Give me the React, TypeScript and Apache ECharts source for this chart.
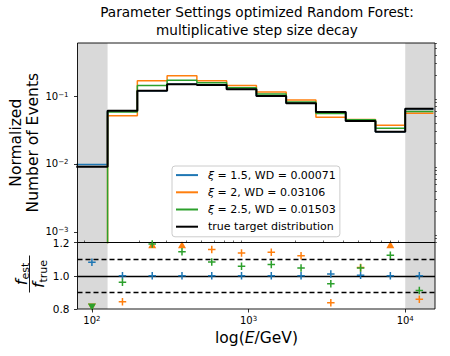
import React, { useEffect, useRef } from "react";
import * as echarts from "echarts";

// ---- data (energies given as log10(E/GeV)) ----
const BIN_EDGES_LOG10 = [1.9, 2.1, 2.29, 2.48, 2.67, 2.86, 3.05, 3.24, 3.43, 3.62, 3.81, 4.0, 4.18];
const TRUE_DIST = [0.0091, 0.0608, 0.1197, 0.1486, 0.145, 0.1256, 0.1, 0.078, 0.058, 0.0429, 0.0299, 0.0652];
const XI_15 = [0.00984, 0.0608, 0.1197, 0.1486, 0.145, 0.1256, 0.1, 0.078, 0.0586, 0.043, 0.0299, 0.0652];
const XI_2 = [0, 0.0513, 0.1676, 0.1991, 0.1679, 0.1428, 0.1141, 0.0874, 0.0486, 0.045, 0.0371, 0.056];
const XI_25 = [0, 0.0584, 0.1425, 0.1701, 0.157, 0.1328, 0.1067, 0.0816, 0.0552, 0.0449, 0.0336, 0.0594];
const SERIES_NAMES = ["ξ = 1.5, WD = 0.00071", "ξ = 2, WD = 0.03106", "ξ = 2.5, WD = 0.01503", "true target distribution"];
const SERIES_COLORS = ["#1f77b4", "#ff7f0e", "#2ca02c", "#000000"];
const X_MAJOR_TICKS = [2, 3, 4];
const Y_MAJOR_TICKS = [-3, -2, -1];
const RATIO_TICKS = [0.8, 1.0, 1.2];
const RATIO_SOLID = [1.0];
const RATIO_DASHED = [0.9, 1.1];
const TITLE = "Parameter Settings optimized Random Forest:\nmultiplicative step size decay";

const FONT = "DejaVu Sans";
const X_MIN = 1.908, X_MAX = 4.19;
const Y_MIN = -3.155, Y_MAX = -0.22;
const R_MIN = 0.8, R_MAX = 1.2;

const minorTicks = (lo: number, hi: number) => {
  const out: number[] = [];
  for (let n = Math.floor(lo) - 1; n <= Math.ceil(hi); n++) {
    for (let k = 2; k <= 9; k++) {
      const v = n + Math.log10(k);
      if (v > lo && v < hi) out.push(v);
    }
  }
  return out;
};

const stepData = (vals: number[]) => {
  const pts: number[][] = [];
  vals.forEach((v, i) => {
    const y = v > 0 ? Math.log10(v) : -12;
    pts.push([BIN_EDGES_LOG10[i], y], [BIN_EDGES_LOG10[i + 1], y]);
  });
  return pts;
};

const ratioData = (vals: number[]) =>
  vals.map((v, i) => {
    const r = v / TRUE_DIST[i];
    const x = (BIN_EDGES_LOG10[i] + BIN_EDGES_LOG10[i + 1]) / 2;
    if (r > R_MAX) return { value: [x, 1.186], symbol: "triangle", symbolSize: [8, 7] };
    if (r < R_MIN) return { value: [x, 0.812], symbol: "triangle", symbolRotate: 180, symbolSize: [8, 7] };
    return { value: [x, r] };
  });

const PLUS = "path://M0,3.2H8V4.8H0Z M3.2,0H4.8V8H3.2Z";

const supLabel = (v: number) => {
  const e = Math.round(v);
  return `{b|10}{s|${e < 0 ? "\u2212" + Math.abs(e) : e}}`;
};
const supRich = {
  b: { fontSize: 10, fontFamily: FONT, color: "#000", lineHeight: 10, verticalAlign: "bottom" },
  s: { fontSize: 7, fontFamily: FONT, color: "#000", lineHeight: 3, verticalAlign: "top" },
};

export default function App() {
  const ref = useRef<HTMLDivElement>(null);
  useEffect(() => {
    if (!ref.current) return;
    const chart = echarts.init(ref.current, undefined, { renderer: "svg" });
    const G0 = { left: 77.5, top: 43, width: 357.5, height: 199.5 };
    const G1 = { left: 77.5, top: 242.5, width: 357.5, height: 66.5 };
    const tickStyle = { color: "#000", width: 0.8 };
    const models = [XI_15, XI_2, XI_25];

    const option: any = {
      animation: false,
      backgroundColor: "#fff",
      grid: [
        { ...G0, show: true, borderColor: "#000", borderWidth: 0.9, backgroundColor: "transparent", z: 10 },
        { ...G1, show: true, borderColor: "#000", borderWidth: 0.9, backgroundColor: "transparent", z: 10 },
      ],
      xAxis: [
        { type: "value", gridIndex: 0, min: X_MIN, max: X_MAX, axisLine: { show: false }, axisTick: { show: false }, axisLabel: { show: false }, splitLine: { show: false } },
        {
          type: "value", gridIndex: 1, min: X_MIN, max: X_MAX, axisLine: { show: false }, splitLine: { show: false },
          axisTick: { show: true, length: 3.5, lineStyle: tickStyle, customValues: X_MAJOR_TICKS },
          axisLabel: { show: true, customValues: X_MAJOR_TICKS, formatter: supLabel, rich: supRich, margin: 6 },
          z: 12,
        },
        {
          type: "value", gridIndex: 1, min: X_MIN, max: X_MAX, axisLine: { show: false }, splitLine: { show: false },
          axisTick: { show: true, length: 2, lineStyle: { color: "#000", width: 0.6 }, customValues: minorTicks(X_MIN, X_MAX) },
          axisLabel: { show: false }, z: 12,
        },
      ],
      yAxis: [
        {
          type: "value", gridIndex: 0, min: Y_MIN, max: Y_MAX, axisLine: { show: false }, splitLine: { show: false },
          axisTick: { show: true, length: 3.5, lineStyle: tickStyle, customValues: Y_MAJOR_TICKS },
          axisLabel: { show: true, customValues: Y_MAJOR_TICKS, formatter: supLabel, rich: supRich, margin: 9 },
          z: 12,
        },
        {
          type: "value", gridIndex: 0, min: Y_MIN, max: Y_MAX, axisLine: { show: false }, splitLine: { show: false },
          axisTick: { show: true, length: 2, lineStyle: { color: "#000", width: 0.6 }, customValues: minorTicks(Y_MIN, Y_MAX) },
          axisLabel: { show: false }, z: 12,
        },
        {
          type: "value", gridIndex: 1, min: R_MIN, max: R_MAX, axisLine: { show: false }, splitLine: { show: false },
          axisTick: { show: true, length: 3.5, lineStyle: tickStyle, customValues: RATIO_TICKS },
          axisLabel: { show: true, customValues: RATIO_TICKS, formatter: (v: number) => v.toFixed(1), fontSize: 10.5, fontFamily: FONT, color: "#000", margin: 8, lineHeight: 10 },
          z: 12,
        },
      ],
      legend: {
        data: SERIES_NAMES,
        orient: "vertical",
        left: 172,
        top: 166,
        padding: [3, 4, 4, 4],
        itemGap: 5,
        itemWidth: 22,
        itemHeight: 2,
        icon: "rect",
        selectedMode: false,
        backgroundColor: "rgba(255,255,255,0.85)",
        borderColor: "#cccccc",
        borderWidth: 1,
        borderRadius: 3,
        textStyle: {
          fontSize: 11, fontFamily: FONT, color: "#000", lineHeight: 12.2, padding: [0, 0, 0, 5],
          rich: { i: { fontStyle: "italic", fontSize: 11, fontFamily: FONT, color: "#000" } },
        },
        formatter: (name: string) => name.replace("ξ", "{i|ξ}"),
        z: 20,
      },
      series: [
        {
          name: "_bg0", type: "line", data: [], xAxisIndex: 0, yAxisIndex: 0, z: 1, silent: true,
          markArea: {
            silent: true, itemStyle: { color: "#d9d9d9" },
            data: [
              [{ xAxis: X_MIN }, { xAxis: BIN_EDGES_LOG10[1] }],
              [{ xAxis: BIN_EDGES_LOG10[BIN_EDGES_LOG10.length - 2] }, { xAxis: X_MAX }],
            ],
          },
        },
        {
          name: "_bg1", type: "line", data: [], xAxisIndex: 1, yAxisIndex: 2, z: 1, silent: true,
          markArea: {
            silent: true, itemStyle: { color: "#d9d9d9" },
            data: [
              [{ xAxis: X_MIN }, { xAxis: BIN_EDGES_LOG10[1] }],
              [{ xAxis: BIN_EDGES_LOG10[BIN_EDGES_LOG10.length - 2] }, { xAxis: X_MAX }],
            ],
          },
        },
        {
          name: "_ref", type: "line", data: [], xAxisIndex: 1, yAxisIndex: 2, z: 2, silent: true,
          markLine: {
            silent: true, symbol: "none", label: { show: false },
            data: [
              ...RATIO_SOLID.map((v) => ({ yAxis: v, lineStyle: { color: "#000", width: 1.3, type: "solid" } })),
              ...RATIO_DASHED.map((v) => ({ yAxis: v, lineStyle: { color: "#000", width: 1.3, type: [5, 3] } })),
            ],
          },
        },
        ...[XI_15, XI_2, XI_25, TRUE_DIST].map((vals, i) => ({
          name: SERIES_NAMES[i], type: "line", xAxisIndex: 0, yAxisIndex: 0, z: 3 + i,
          data: stepData(vals), showSymbol: false, symbol: "none", clip: true,
          color: SERIES_COLORS[i],
          itemStyle: { color: SERIES_COLORS[i] },
          lineStyle: { color: SERIES_COLORS[i], width: i === 3 ? 2 : 1.5 },
        })),
        ...models.map((vals, i) => ({
          name: "ratio" + i, type: "scatter", xAxisIndex: 1, yAxisIndex: 2, z: 8 + i,
          data: ratioData(vals), symbol: PLUS, symbolSize: 7.5,
          itemStyle: { color: SERIES_COLORS[i], opacity: 1 },
        })),
      ],
      graphic: [
        {
          type: "text", x: 257, y: 3.5, z: 30,
          style: { text: TITLE, align: "center", verticalAlign: "top", fontSize: 13.6, lineHeight: 17.5, fontFamily: FONT, fill: "#000" },
        },
        {
          type: "text", x: 24.5, y: 142.7, rotation: Math.PI / 2, z: 30,
          style: { text: "Normalized\nNumber of Events", align: "center", verticalAlign: "middle", fontSize: 15.5, lineHeight: 17.5, fontFamily: FONT, fill: "#000" },
        },
        {
          type: "text", x: 256.5, y: 338, z: 30,
          style: {
            text: "log({i|E}/GeV)", align: "center", verticalAlign: "middle", fontSize: 15.5, fontFamily: FONT, fill: "#000",
            rich: { i: { fontStyle: "italic", fontSize: 15.5, fontFamily: FONT, fill: "#000" } },
          },
        },
        {
          type: "group", x: 29.5, y: 274, rotation: Math.PI / 2, z: 30,
          children: [
            {
              type: "text", x: 0, y: -7.5,
              style: {
                text: "{f|f}{s|est}", align: "center", verticalAlign: "middle",
                rich: {
                  f: { fontSize: 16, fontStyle: "italic", fontFamily: FONT, fill: "#000", lineHeight: 18, verticalAlign: "top" },
                  s: { fontSize: 11, fontFamily: FONT, fill: "#000", lineHeight: 11, verticalAlign: "bottom" },
                },
              },
            },
            { type: "line", shape: { x1: -18.5, y1: 0, x2: 18.5, y2: 0 }, style: { stroke: "#000", lineWidth: 0.9 } },
            {
              type: "text", x: 0, y: 10,
              style: {
                text: "{f|f}{s|true}", align: "center", verticalAlign: "middle",
                rich: {
                  f: { fontSize: 16, fontStyle: "italic", fontFamily: FONT, fill: "#000", lineHeight: 18, verticalAlign: "top" },
                  s: { fontSize: 11, fontFamily: FONT, fill: "#000", lineHeight: 11, verticalAlign: "bottom" },
                },
              },
            },
          ],
        },
      ],
    };
    chart.setOption(option);
    return () => chart.dispose();
  }, []);
  return <div ref={ref} style={{ position: "fixed", left: 0, top: 0, width: 450, height: 356 }} />;
}
